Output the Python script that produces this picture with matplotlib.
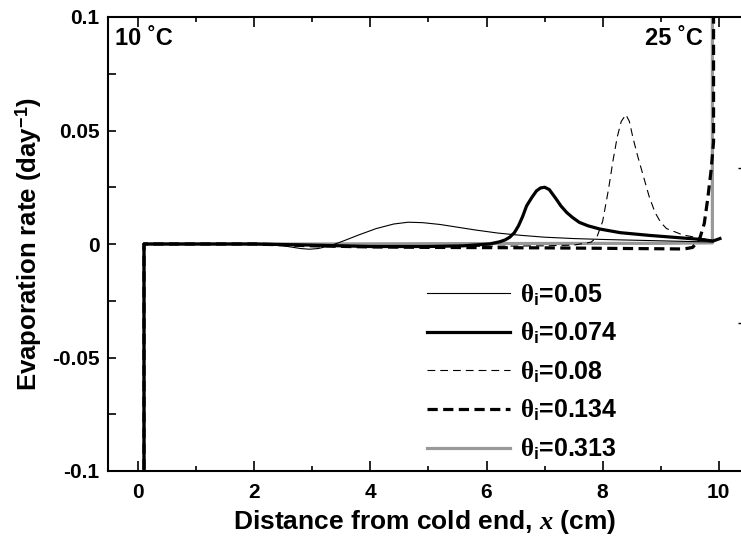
import matplotlib
matplotlib.use("Agg")
import matplotlib.pyplot as plt
from matplotlib.ticker import MultipleLocator, FixedLocator, NullFormatter

plt.rcParams['font.family'] = ['Liberation Sans', 'DejaVu Sans']
plt.rcParams['font.weight'] = 'bold'
plt.rcParams['mathtext.fontset'] = 'custom'
plt.rcParams['mathtext.rm'] = 'Liberation Sans:bold'
plt.rcParams['mathtext.bf'] = 'Liberation Sans:bold'
plt.rcParams['mathtext.it'] = 'Liberation Serif'
plt.rcParams['mathtext.sf'] = 'Liberation Sans'
plt.rcParams['mathtext.cal'] = 'Liberation Serif:italic'

# ---- data (x in cm, evaporation rate in 1/day) ----
x_005 = [0.1, 0.1, 1.0, 2.0, 2.4, 2.6, 2.8, 2.95, 3.1, 3.3, 3.5, 3.8, 4.1, 4.4, 4.65,
         4.9, 5.2, 5.5, 5.8, 6.2, 6.6, 7.0, 7.5, 8.0, 8.5, 9.0, 9.5, 9.9]
y_005 = [-0.12, 0.0, 0.0, 0.0, -0.0003, -0.0012, -0.002, -0.0023, -0.002, -0.0008, 0.001,
         0.004, 0.0068, 0.0088, 0.0096, 0.0094, 0.0086, 0.0074, 0.0062, 0.0048, 0.0038,
         0.003, 0.0024, 0.002, 0.0017, 0.0014, 0.0011, 0.0009]

x_0074 = [0.1, 0.1, 2.0, 3.0, 4.0, 5.0, 5.6, 6.05, 6.23, 6.32, 6.4, 6.48, 6.55, 6.62,
          6.69, 6.78, 6.86, 6.93, 7.0, 7.08, 7.2, 7.28, 7.38, 7.48, 7.6, 7.75, 7.95,
          8.3, 8.8, 9.3, 9.7, 9.9, 10.02]
y_0074 = [-0.12, 0.0, 0.0, -0.0005, -0.0011, -0.0011, -0.0008, 0.0, 0.001, 0.0018,
          0.003, 0.005, 0.008, 0.012, 0.0168, 0.0205, 0.0234, 0.0247, 0.025, 0.024,
          0.0198, 0.0168, 0.0139, 0.0117, 0.0095, 0.008, 0.0066, 0.005, 0.0038, 0.0028,
          0.002, 0.0013, 0.0024]

x_008 = [0.1, 0.1, 2.0, 3.0, 4.0, 5.0, 6.0, 7.0, 7.5, 7.8, 7.9, 8.0, 8.1, 8.18, 8.25,
         8.32, 8.4, 8.46, 8.52, 8.6, 8.7, 8.8, 8.9, 9.0, 9.1, 9.38, 9.67, 9.9]
y_008 = [-0.12, 0.0, 0.0, -0.0005, -0.001, -0.001, -0.001, -0.0008, -0.0005, 0.0008,
         0.003, 0.01, 0.024, 0.037, 0.047, 0.054, 0.057, 0.054, 0.047, 0.039, 0.03,
         0.021, 0.014, 0.0095, 0.0068, 0.004, 0.0026, 0.0015]

x_0134 = [0.1, 0.1, 2.0, 3.0, 4.0, 5.0, 6.0, 7.0, 8.0, 9.0, 9.4, 9.55, 9.67, 9.75,
          9.81, 9.87, 9.91, 9.91]
y_0134 = [-0.12, 0.0, 0.0, -0.0008, -0.0013, -0.0015, -0.0016, -0.0017, -0.0019,
          -0.0021, -0.0022, -0.0015, 0.0022, 0.009, 0.02, 0.033, 0.045, 0.12]

x_0313 = [0.1, 0.1, 3.0, 6.0, 9.0, 9.89, 9.89]
y_0313 = [-0.12, 0.0, 0.0, 0.0002, 0.0003, 0.0005, 0.12]

labels = [r"$\theta_{\mathsf{i}}$=0.05", r"$\theta_{\mathsf{i}}$=0.074",
          r"$\theta_{\mathsf{i}}$=0.08", r"$\theta_{\mathsf{i}}$=0.134",
          r"$\theta_{\mathsf{i}}$=0.313"]

fig = plt.figure(figsize=(7.41, 5.36), dpi=100)
ax = fig.add_axes([108 / 741, 65 / 536, 634 / 741, 454 / 536])

ax.plot(x_005, y_005, color='black', lw=0.8, label=labels[0], zorder=3)
ax.plot(x_0074, y_0074, color='black', lw=2.3, label=labels[1], zorder=4)
ax.plot(x_008, y_008, color='black', lw=0.8, dashes=(7, 4.5), label=labels[2], zorder=3)
ax.plot(x_0313, y_0313, color='#999999', lw=2.3, label=labels[4], zorder=2)
ax.plot(x_0134, y_0134, color='black', lw=2.3, dashes=(3.2, 1.7), label=labels[3], zorder=5)

ax.set_xlim(-0.52, 10.4)
ax.set_ylim(-0.1, 0.1)

ax.xaxis.set_major_locator(MultipleLocator(2))
ax.xaxis.set_minor_locator(MultipleLocator(1))
ax.yaxis.set_major_locator(FixedLocator([-0.1, -0.05, 0, 0.05, 0.1]))
ax.yaxis.set_minor_locator(FixedLocator([-0.075, -0.025, 0.025, 0.075]))
ax.set_yticklabels(['-0.1', '-0.05', '0', '0.05', '0.1'])

ax.tick_params(which='both', direction='in', top=True, right=False, width=1.2,
               labelsize=15)
ax.tick_params(axis='x', which='major', length=7, pad=9)
ax.tick_params(axis='x', which='minor', length=3.5)
ax.tick_params(axis='y', which='major', length=6, pad=6)
ax.tick_params(axis='y', which='minor', length=6)
for lab in ax.get_xticklabels() + ax.get_yticklabels():
    lab.set_fontweight('bold')

for s in ['left', 'bottom', 'top']:
    ax.spines[s].set_linewidth(1.5)
ax.spines['right'].set_visible(False)

# right-hand ticks of the hidden right axis
ax2 = ax.twinx()
ax2.set_ylim(-0.1, 0.1)
ax2.yaxis.set_major_locator(FixedLocator([0.0334, -0.035]))
ax2.yaxis.set_major_formatter(NullFormatter())
ax2.tick_params(direction='in', length=3, width=1.0)
for s in ax2.spines.values():
    s.set_visible(False)

ax.set_xlabel(r"Distance from cold end, $\mathcal{x}$ (cm)", fontsize=19,
              fontweight='bold', labelpad=4)
ax.set_ylabel(r"Evaporation rate (day$^{\mathrm{-1}}$)", fontsize=18.5,
              fontweight='bold', labelpad=6)

ax.text(0.011, 0.978, "10 ˚C", transform=ax.transAxes, ha='left', va='top',
        fontsize=17, fontweight='bold', family=['Liberation Sans', 'DejaVu Sans'])
ax.text(0.938, 0.978, "25 ˚C", transform=ax.transAxes, ha='right', va='top',
        fontsize=17, fontweight='bold', family=['Liberation Sans', 'DejaVu Sans'])

handles, labs = ax.get_legend_handles_labels()
order = [labs.index(l) for l in labels]
leg = fig.legend([handles[i] for i in order], [labs[i] for i in order],
                 loc='upper left', bbox_to_anchor=(427 / 741, (536 - 282) / 536),
                 frameon=False, fontsize=18, handlelength=3.3, handletextpad=0.4,
                 borderpad=0, borderaxespad=0, labelspacing=0.52)
for t in leg.get_texts():
    t.set_fontweight('bold')

fig.savefig("out.png", dpi=100)
